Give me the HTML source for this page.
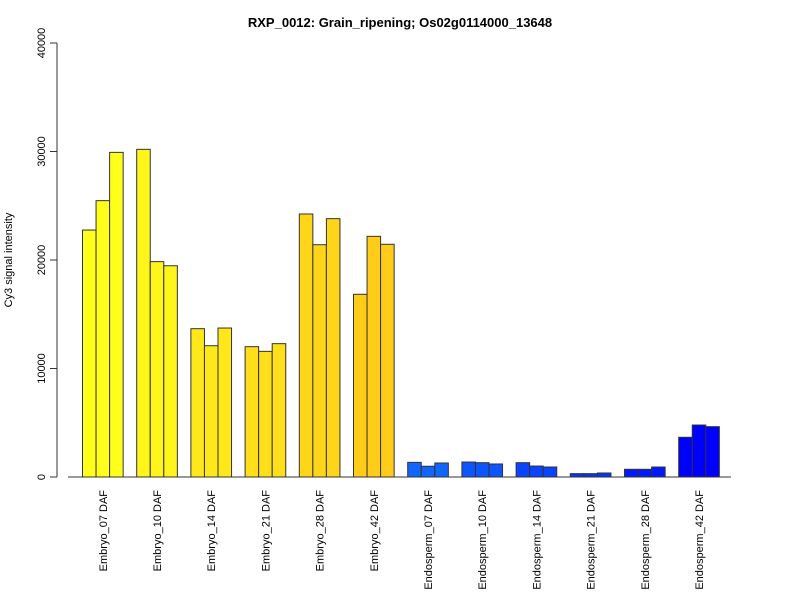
<!DOCTYPE html>
<html><head><meta charset="utf-8"><style>
body{margin:0;background:#fff}
svg{display:block;font-family:"Liberation Sans",Arial,sans-serif}
</style></head><body>
<svg id="c" width="800" height="600">
<text x="400" y="27" text-anchor="middle" font-weight="bold" font-size="13">RXP_0012: Grain_ripening; Os02g0114000_13648</text>
<text transform="translate(12,260) rotate(-90)" text-anchor="middle" font-size="11">Cy3 signal intensity</text>
<g id="bars"></g>
<g id="yaxis"></g>
<g id="xlabels"></g>
<line x1="68" y1="477" x2="731" y2="477" stroke="#333"/>
</svg>
<script>
const categories=["Embryo_07 DAF","Embryo_10 DAF","Embryo_14 DAF","Embryo_21 DAF","Embryo_28 DAF","Embryo_42 DAF","Endosperm_07 DAF","Endosperm_10 DAF","Endosperm_14 DAF","Endosperm_21 DAF","Endosperm_28 DAF","Endosperm_42 DAF"];
const rep1=[22760,30200,13670,12010,24240,16840,1350,1380,1320,310,710,3660];
const rep2=[25470,19850,12100,11580,21410,22180,990,1320,1010,310,710,4790];
const rep3=[29920,19470,13730,12290,23810,21450,1290,1200,920,370,920,4640];
const yTicks=[0,10000,20000,30000,40000];
const groupColors=["#ffff1a","#fff51a","#ffe81a","#ffdf1a","#ffd51a","#ffcc1a","#1166ff","#0d55ff","#0a44ff","#0633ff","#0319ff","#0000ff"];
const NS="http://www.w3.org/2000/svg";
const y0=477,yTop=43,yMax=40000,unit=13.55,xStart=82.5-unit;
const yScale=v=>y0-(v/yMax)*(y0-yTop);
const xScale=(g,r)=>xStart+unit*(g*4+1+r);
const bars=document.getElementById('bars');
const reps=[rep1,rep2,rep3];
categories.forEach((c,g)=>{
  reps.forEach((arr,r)=>{
    const rect=document.createElementNS(NS,'rect');
    const y=yScale(arr[g]);
    rect.setAttribute('x',xScale(g,r));rect.setAttribute('y',y);
    rect.setAttribute('width',unit);rect.setAttribute('height',y0-y);
    rect.setAttribute('fill',groupColors[g]);rect.setAttribute('stroke','#333');rect.setAttribute('stroke-width','1');
    
    
    bars.appendChild(rect);
  });
  const t=document.createElementNS(NS,'text');
  const cx=xScale(g,1.5);
  t.setAttribute('transform','translate('+(cx+4)+',490) rotate(-90)');
  t.setAttribute('text-anchor','end');t.setAttribute('font-size','11');
  t.textContent=c;
  
  
  document.getElementById('xlabels').appendChild(t);
});
const ya=document.getElementById('yaxis');
const ln=document.createElementNS(NS,'line');
ln.setAttribute('x1',57);ln.setAttribute('x2',57);ln.setAttribute('y1',yScale(0));ln.setAttribute('y2',yScale(yMax));ln.setAttribute('stroke','#333');


ya.appendChild(ln);
yTicks.forEach(v=>{
  const y=yScale(v);
  const tk=document.createElementNS(NS,'line');
  tk.setAttribute('x1',50);tk.setAttribute('x2',57);tk.setAttribute('y1',y);tk.setAttribute('y2',y);tk.setAttribute('stroke','#333');
  
  
  ya.appendChild(tk);
  const t=document.createElementNS(NS,'text');
  t.setAttribute('transform','translate(45,'+y+') rotate(-90)');
  t.setAttribute('text-anchor','middle');t.setAttribute('font-size','11');
  t.textContent=v;
  
  
  ya.appendChild(t);
});
</script>
</body></html>
